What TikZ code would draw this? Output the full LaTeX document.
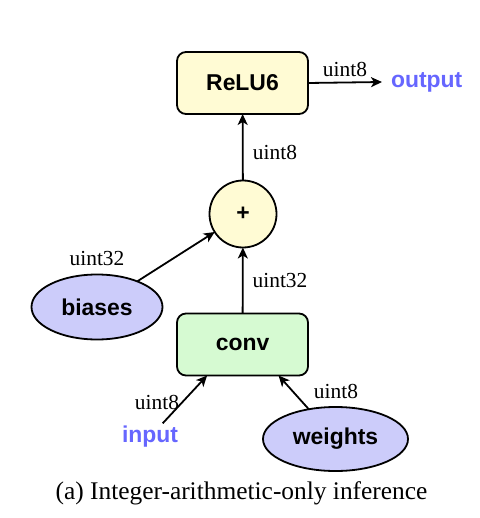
\documentclass[tikz,border=0pt]{standalone}
\usepackage{fontspec}
\setmainfont{Liberation Serif}
\newfontfamily\boldsans{Liberation Sans}
\usetikzlibrary{shapes.geometric,arrows.meta,calc}
\definecolor{opfill}{RGB}{255,251,212}
\definecolor{convfill}{RGB}{214,250,210}
\definecolor{datafill}{RGB}{204,204,250}
\definecolor{iotext}{RGB}{102,102,255}
\begin{document}
\begin{tikzpicture}[x=1bp,y=-1bp,
  every node/.style={inner sep=0pt, outer sep=0pt},
  opbox/.style={draw, line width=1.8bp, rounded corners=9bp, minimum width=131bp, minimum height=62bp,
    font=\boldsans\bfseries\fontsize{23}{26}\selectfont},
  opcircle/.style={draw, line width=1.8bp, circle, minimum size=67bp, fill=opfill,
    font=\boldsans\bfseries\fontsize{23}{26}\selectfont},
  dataell/.style={draw, line width=1.8bp, ellipse, fill=datafill,
    font=\boldsans\bfseries\fontsize{23}{26}\selectfont},
  iolabel/.style={text=iotext, font=\boldsans\bfseries\fontsize{23}{26}\selectfont},
  typelabel/.style={font=\fontsize{21.5}{24}\selectfont},
  flow/.style={line width=1.8bp, -{Stealth[length=11bp,width=10bp,inset=3bp]}}]
  \useasboundingbox (0,0) rectangle (480,518);

  % operations
  \node[opbox, fill=opfill] (relu) at (242.5,83) {ReLU6};
  \node[opcircle] (plus) at (243,214) {+};
  \node[opbox, fill=convfill] (conv) at (242.5,344.5) {conv};

  % data
  \node[dataell, minimum width=131bp, minimum height=65bp] (biases) at (97,307) {biases};
  \node[dataell, minimum width=145bp, minimum height=64bp] (weights) at (335.5,439) {weights};
  \node[iolabel, inner sep=3bp] (input) at (150,437) {input};
  \node[iolabel, anchor=west] (output) at (391,82) {output};

  % end points on the bottom edge of conv
  \coordinate (convin) at ($(conv.south west)!0.23!(conv.south east)$);
  \coordinate (convw) at ($(conv.south west)!0.775!(conv.south east)$);

  % connectors
  \draw[flow] (relu.east) -- ($(output.west)+(-9,0)$);
  \draw[flow] (plus) -- (relu);
  \draw[flow] (conv) -- (plus);
  \draw[flow] (biases) -- (plus);
  \draw[flow] (input) -- (convin);
  \draw[flow] (weights) -- (convw);

  % data types
  \node[typelabel] (t1) at (345,69) {uint8};
  \node[typelabel] (t2) at (275,152) {uint8};
  \node[typelabel] (t3) at (280,281) {uint32};
  \node[typelabel] (t4) at (97,259) {uint32};
  \node[typelabel] (t5) at (157,402) {uint8};
  \node[typelabel] (t6) at (336,391) {uint8};

  % caption
  \node[font=\fontsize{25.5}{28}\selectfont] (caption) at (241.5,493) {(a) Integer-arithmetic-only inference};
\end{tikzpicture}
\end{document}
